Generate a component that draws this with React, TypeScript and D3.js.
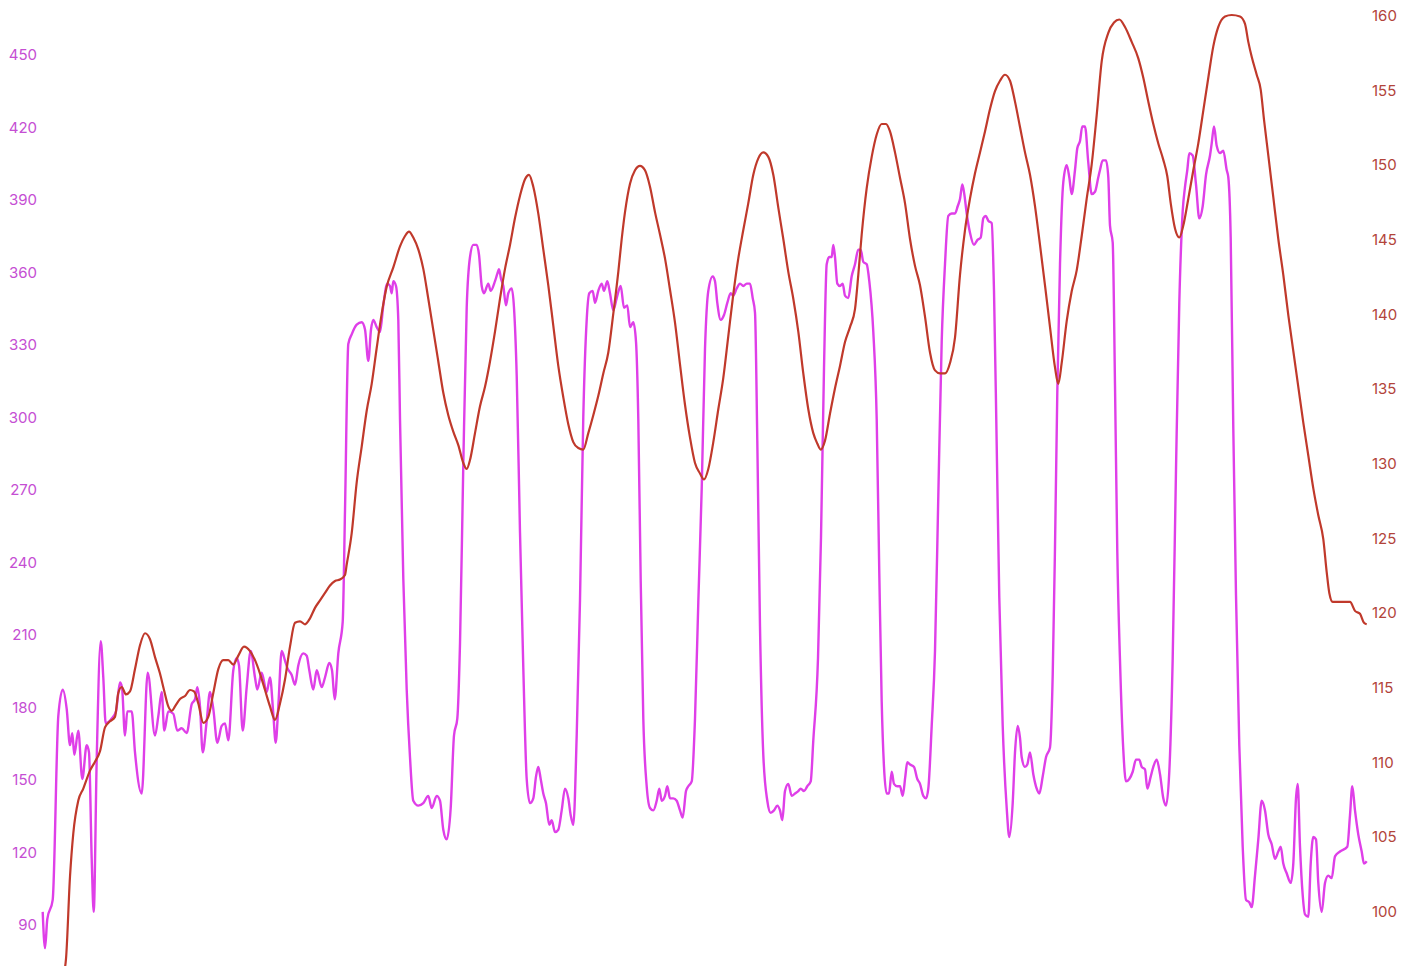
import React from "react";
import * as d3 from "d3";

// ---- data (time index) ----
const POWER_POINTS: [number, number][] = [
  [0.7,95],[3,80],[5.3,92],[10.7,100],[16.3,176],[20.7,187],[24.7,179],[28,164],[30.3,169],[32.3,160],[36.3,170],[40.3,150],[44.7,164],[47,161],[49.7,117],[51.7,95],[54.7,158],[58.7,207],[61.3,192],[63.7,173],[69.7,175],[74,178],[78,190],[80,188],[83,168],[85.3,178],[89.7,178],[93,161],[99.7,144],[105.7,194],[113,168],[116.3,176],[119.7,186],[122.3,170],[126.3,178],[131.3,177],[135.3,170],[139.7,171],[144.7,169],[149.7,181],[153,183],[155.3,188],[158,180],[160.7,161],[164.7,174],[168,186],[171.3,179],[175.3,165],[179.7,172],[183,173],[186.3,166],[191.3,195],[194.7,200],[197,197],[200.7,170],[204.7,188],[208.7,203],[213,192],[215.3,187],[219.7,194],[224.7,186],[228,192],[231.3,177],[233.7,165],[236.3,180],[239.7,203],[243,199],[245.3,196],[249.7,193],[253,189],[256.3,197],[261.3,202],[264.7,201],[267.3,195],[271.3,187],[274.7,195],[279.7,188],[283,192],[287.3,198],[290,195],[292.7,183],[296.3,202],[300.7,215],[303,261],[306.3,330],[309.7,334],[314.7,338],[319.7,339],[323,336],[326.3,323],[329,336],[331.3,340],[334.7,337],[338,335],[341.3,346],[345.3,355],[348,354],[349.7,351],[351.3,356],[354,354],[356.3,340],[358,299],[361.3,233],[364.7,187],[368,159],[371.3,141],[376.3,139],[381.3,140],[386.3,143],[389.7,138],[394.7,143],[398,141],[401.3,129],[404.7,125],[408.7,138],[412,168],[415.3,175],[418,206],[421.3,280],[424.7,345],[428,366],[431.3,371],[434.7,371],[437,367],[439.7,354],[442,351],[446.3,355],[448.7,352],[453,356],[455.3,359],[457,361],[459,357],[461.3,354],[464,346],[466.3,351],[469.7,353],[472,345],[474.7,317],[478,252],[481.3,196],[484.7,150],[488,140],[491.3,142],[494,151],[496.3,155],[498.7,150],[501.3,144],[504,140],[507.3,131],[509.7,133],[513,128],[516.3,129],[519.7,137],[523,146],[526.3,142],[528.7,135],[531.3,131],[534.7,168],[538,224],[541.3,300],[544.7,340],[547.3,351],[550.7,352],[553,347],[556.3,352],[559.7,355],[562,352],[565.3,356],[568,351],[571.3,344],[574.7,349],[578.7,354],[582,345],[585.3,346],[588,337],[591.3,339],[594,331],[596.3,299],[598.7,232],[601.3,175],[604.7,147],[608,138],[611.3,137],[614.7,141],[617.3,146],[619.7,141],[623,143],[625.3,147],[628,142],[631.3,142],[634.7,141],[638,137],[640.7,134],[644,145],[646.3,147],[649.7,149],[653,175],[656.3,223],[659.7,270],[663,328],[666.3,352],[670.7,358],[673,356],[675.3,347],[678.7,340],[682,342],[685.3,347],[688.7,351],[691.3,350],[694.7,353],[698,355],[701.3,354],[704.7,355],[708,355],[710.7,349],[713,343],[715.3,290],[718,213],[721.3,160],[725.3,141],[728.7,136],[732,137],[735.3,139],[738,137],[740.3,133],[743,145],[746.3,148],[749.7,143],[753,144],[756.3,145],[758.7,146],[762,145],[765.3,147],[768.7,149],[771.3,166],[776,200],[779,250],[782,320],[784.7,363],[787.3,366],[789.7,366],[791.3,371],[793,366],[795.3,355],[798,354],[800.7,355],[803,350],[806.3,349],[809.7,358],[813,363],[816.3,369],[818.7,369],[821.3,364],[824.7,363],[827.3,356],[831.3,335],[834.7,299],[837.3,235],[839.7,182],[842,155],[844.7,144],[847,144],[849.7,153],[852,148],[855.3,147],[858,147],[860.7,143],[863.3,151],[865.3,157],[868,156],[872,155],[875.3,150],[878,148],[881.3,143],[884,142],[886.3,146],[889.7,172],[893,203],[896.3,267],[899.7,331],[903,363],[906.3,383],[909.7,384],[913,384],[915.7,387],[918,390],[920.3,396],[922.3,392],[924.7,384],[928,376],[932,371],[935.3,373],[938.7,374],[941.3,382],[943.7,383],[946.3,381],[949.7,380],[952,352],[954.7,288],[957.3,225],[960.7,172],[964.7,138],[967.3,126],[970.7,140],[973,161],[975.7,172],[978,167],[979.7,159],[983,155],[985.3,156],[988,161],[991.3,152],[994.7,146],[997.3,144],[1000.7,151],[1004,159],[1008,163],[1010.7,193],[1013,246],[1015.3,310],[1018,363],[1021.3,397],[1024.7,404],[1027.3,399],[1029.7,392],[1033,402],[1035.3,411],[1038,414],[1040.3,420],[1043,420],[1046.3,405],[1049.7,392],[1053,393],[1056.3,399],[1058,402],[1060.7,406],[1064,406],[1066.3,399],[1068,379],[1070.7,372],[1073,313],[1075.3,244],[1078,199],[1081.3,162],[1084,149],[1087.3,150],[1090.7,153],[1094,158],[1097.3,158],[1099.7,155],[1103,154],[1105.3,146],[1108.7,151],[1111.3,155],[1114.7,158],[1118,152],[1121.3,142],[1124,139],[1127.3,153],[1130.7,200],[1134,278],[1137.3,347],[1140.7,385],[1143,395],[1145.3,402],[1147.3,409],[1150.7,408],[1154,396],[1157.3,382],[1160.7,387],[1164,400],[1168,408],[1169.7,413],[1172,420],[1174.7,412],[1178,409],[1181.3,410],[1184.7,402],[1186.3,399],[1188.7,374],[1191.3,295],[1194,226],[1197.3,164],[1200.7,122],[1204,100],[1207.3,99],[1209.7,97],[1213,110],[1216.3,125],[1219.7,141],[1223,137],[1226.3,127],[1229.7,123],[1233,117],[1236.3,120],[1238.7,122],[1241.3,115],[1244.7,111],[1248.7,107],[1251.3,115],[1254,142],[1255.7,148],[1258,122],[1260.7,102],[1263,94],[1266.3,93],[1268.7,115],[1271.3,126],[1274,125],[1276.3,107],[1279.7,95],[1283,107],[1286.3,110],[1289.7,109],[1293,118],[1298,120],[1305.3,122],[1308,135],[1310.3,147],[1313,137],[1316.3,127],[1319.7,120],[1322,115],[1324.7,116],
];

const HR_POINTS: [number, number][] = [
  [20,95.3],[24,96.8],[28,102.3],[31.3,105.2],[36.3,107.4],[41.3,108.2],[48,109.4],[53,110],[58,110.7],[63,112.3],[68,112.7],[73,113],[76.3,114.6],[79.7,115],[84,114.5],[88,114.7],[93,116.2],[98,117.8],[103,118.6],[108,118.2],[113,117],[118,115.9],[122,114.8],[126.3,113.7],[129.7,113.4],[133,113.7],[138,114.2],[143,114.4],[148,114.8],[152,114.7],[156.3,113.9],[161.3,112.6],[166.3,113],[171.3,114.6],[176.3,116.2],[181.3,116.8],[186.3,116.8],[191.3,116.5],[196.3,117.1],[202,117.7],[208,117.4],[213,116.8],[218,115.9],[223,114.8],[228,113.7],[233,112.8],[238,113.9],[243,115.5],[248,117.7],[253,119.3],[258,119.4],[263,119.2],[268,119.6],[273,120.3],[278,120.8],[283,121.3],[288,121.8],[293,122.1],[298,122.2],[303,122.5],[304.7,123.2],[309.7,125.3],[314.7,128.7],[319.7,131.1],[324.7,133.5],[329.7,135.3],[334.7,137.7],[339.7,140],[344.7,141.8],[351.3,143.1],[358,144.5],[363,145.2],[367,145.5],[371.3,145.1],[376.3,144.3],[381.3,143],[386.3,141],[391.3,138.9],[396.3,136.8],[401.3,134.7],[406.3,133.2],[411.3,132.1],[416.3,131.2],[421.3,130],[424.7,129.6],[428,130.2],[433,132],[438,133.8],[443,135.1],[448,136.8],[453,138.8],[458,141],[463,143],[468,144.6],[473,146.4],[478,147.9],[483,149],[487,149.3],[491.3,148.5],[496.3,146.7],[501.3,144.3],[506.3,141.9],[511.3,139.2],[516.3,136.5],[521.3,134.4],[526.3,132.6],[531.3,131.4],[536.3,131],[541.3,130.9],[546.3,132],[551.3,133.2],[556.3,134.5],[561.3,136],[566.3,137.4],[571.3,140],[576.3,142.8],[579.7,145],[583,146.8],[588,148.7],[593,149.6],[598,149.9],[603,149.6],[608,148.5],[613,146.8],[618,145.3],[623,143.7],[628,141.6],[633,139.4],[638,136.6],[643,133.9],[648,131.7],[653,130],[658,129.3],[662,128.9],[666.3,129.6],[671.3,131.4],[676.3,133.6],[681.3,135.7],[686.3,138.5],[691.3,141.3],[696.3,143.7],[701.3,145.6],[706.3,147.4],[711.3,149.3],[716.3,150.4],[721.3,150.8],[726.3,150.5],[731.3,149.3],[736.3,147.1],[741.3,145],[746.3,142.8],[751.3,141],[756.3,138.8],[761.3,136],[766.3,133.6],[771.3,132],[775.3,131.3],[778.7,130.9],[783,131.5],[788,133.3],[793,135],[798,136.5],[803,138.1],[808,139.1],[813,140.3],[816.3,142.6],[819.7,145.3],[824.7,148.4],[829.7,150.5],[834.7,152],[839.7,152.7],[844,152.7],[848,152.2],[853,150.8],[858,149.1],[863,147.4],[868,145],[873,143.2],[878,141.9],[883,139.8],[888,137.4],[893,136.2],[898,136],[903,136],[908,136.7],[913,138.4],[918,142.6],[923,145.6],[928,147.7],[933,149.4],[938,150.8],[943,152.2],[948,153.7],[953,154.9],[958,155.6],[963,156],[968,155.6],[973,154.2],[978,152.5],[983,150.8],[988,149.3],[993,147.2],[998,144.6],[1003,141.9],[1008,139.1],[1013,136.4],[1016.3,135.3],[1019.7,136.7],[1024.7,139.5],[1029.7,141.5],[1034.7,142.9],[1039.7,145.2],[1044.7,147.7],[1049.7,150],[1054.7,153.3],[1059.7,156.9],[1066.3,158.8],[1072,159.5],[1077.3,159.7],[1083,159.2],[1089.7,158.2],[1096.3,157.1],[1101.3,155.8],[1106.3,154.2],[1111.3,152.7],[1116.3,151.4],[1121.3,150.3],[1125.3,149.2],[1128.7,147.4],[1133,145.7],[1137.3,145.1],[1141.3,145.9],[1146.3,147.7],[1151.3,149.6],[1156.3,151.4],[1161.3,153.6],[1166.3,155.8],[1171.3,157.9],[1176.3,159.2],[1183,159.9],[1189.7,160],[1198,159.9],[1203,159.4],[1206.3,158.2],[1209.7,157.2],[1214.7,156],[1218.7,155],[1222,153],[1226.3,150.6],[1231.3,147.8],[1236.3,145],[1241.3,142.6],[1246.3,139.9],[1251.3,137.5],[1256.3,135.1],[1261.3,132.7],[1266.3,130.5],[1271.3,128.3],[1276.3,126.5],[1281.3,124.9],[1284.7,122.7],[1287.3,121.3],[1290.7,120.7],[1298,120.7],[1308,120.7],[1313,120.1],[1318,119.9],[1322,119.3],[1324.7,119.2],
];

const POWER_TICKS = [90, 120, 150, 180, 210, 240, 270, 300, 330, 360, 390, 420, 450];
const HR_TICKS = [100, 105, 110, 115, 120, 125, 130, 135, 140, 145, 150, 155, 160];

const W = 1408;
const H = 966;

const POWER_LINE = "#df3fe8";
const POWER_TEXT = "#c54ed3";
const HR_LINE = "#c0392b";
const HR_TEXT = "#b2443a";

export default function App() {
  const x = d3.scaleLinear().domain([0, 1325]).range([42, 1367]);
  const yP = d3.scaleLinear().domain([90, 450]).range([924, 54]);
  const yH = d3.scaleLinear().domain([100, 160]).range([911, 15]);

  const pLine = d3
    .line<[number, number]>()
    .x((d) => x(d[0]))
    .y((d) => yP(d[1]))
    .curve(d3.curveMonotoneX);
  const hLine = d3
    .line<[number, number]>()
    .x((d) => x(d[0]))
    .y((d) => yH(d[1]))
    .curve(d3.curveMonotoneX);

  return (
    <svg
      width={W}
      height={H}
      style={{ position: "absolute", left: 0, top: 0, background: "#fff" }}
      fontFamily="Inter, 'Open Sans', sans-serif"
    >
      <rect width={W} height={H} fill="#fff" />
      <g>
        {POWER_TICKS.map((t) => (
          <text
            key={"p" + t}
            x={37}
            y={yP(t) + 2}
            textAnchor="end"
            dominantBaseline="middle"
            fontSize={15}
            fill={POWER_TEXT}
          >
            {t}
          </text>
        ))}
      </g>
      <g>
        {HR_TICKS.map((t) => (
          <text
            key={"h" + t}
            x={1372}
            y={yH(t) + 2}
            textAnchor="start"
            dominantBaseline="middle"
            fontSize={15}
            fill={HR_TEXT}
          >
            {t}
          </text>
        ))}
      </g>
      <path d={pLine(POWER_POINTS) || ""} fill="none" stroke={POWER_LINE} strokeWidth={2.4} strokeLinejoin="round" />
      <path d={hLine(HR_POINTS) || ""} fill="none" stroke={HR_LINE} strokeWidth={2.2} strokeLinejoin="round" />
    </svg>
  );
}
